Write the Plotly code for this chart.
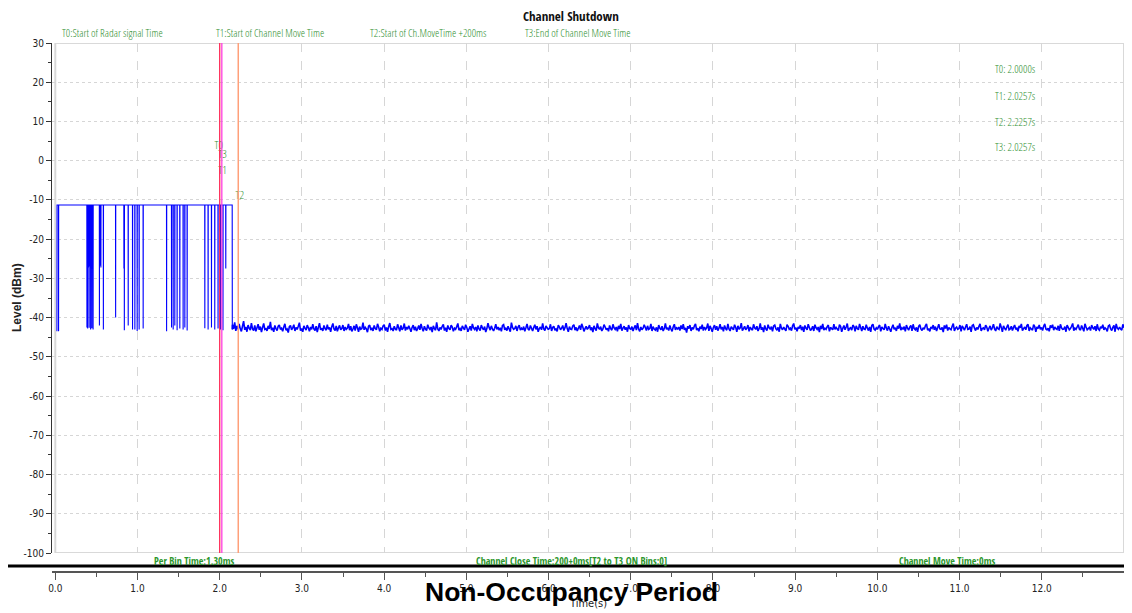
import numpy as np
import plotly.graph_objects as go

# ---------------- data ----------------
title_text = "Channel Shutdown"
x_ticks = [0, 1, 2, 3, 4, 5, 6, 7, 8, 9, 10, 11, 12, 13]
y_ticks = [30, 20, 10, 0, -10, -20, -30, -40, -50, -60, -70, -80, -90, -100]

t0, t1, t2, t3 = 2.0000, 2.0257, 2.2257, 2.0257
marker_names = ["T0", "T1", "T2", "T3"]
marker_times = [t0, t1, t2, t3]

header_labels = ["T0:Start of Radar signal Time", "T1:Start of Channel Move Time",
                 "T2:Start of Ch.MoveTime +200ms", "T3:End of Channel Move Time"]
bottom_labels = ["Per Bin Time:1.30ms", "Channel Close Time:200+0ms[T2 to T3 ON Bins:0]",
                 "Channel Move Time:0ms"]

signal_start = 0.020
signal_end = 2.152
signal_level = -11.3
dip_times = [0.040,
             0.385, 0.388, 0.391, 0.394, 0.397, 0.400, 0.403, 0.406, 0.409, 0.412,
             0.415, 0.418, 0.421, 0.424, 0.427, 0.430, 0.433, 0.436, 0.439, 0.442,
             0.445, 0.448, 0.451, 0.454, 0.457, 0.460,
             0.537, 0.545, 0.555, 0.585, 0.734, 0.835, 0.840, 0.887, 0.940, 0.968,
             0.996, 1.020, 1.069, 1.354, 1.414, 1.434, 1.454, 1.482, 1.515, 1.555,
             1.576, 1.604, 1.819, 1.859, 1.900, 1.940, 1.980, 2.010, 2.040, 2.074]
dip_levels = [-43.5,
              -42.5, -27.0, -27.0, -42.8, -27.0, -27.0, -27.2, -27.0, -27.0, -42.6,
              -27.0, -27.0, -27.0, -27.0, -27.0, -43.0, -27.0, -27.0, -27.3, -27.0,
              -42.7, -27.0, -27.0, -27.0, -27.0, -43.0,
              -42.0, -26.8, -27.2, -43.0, -40.0, -27.5, -43.2, -42.0, -43.0, -43.0,
              -43.4, -43.0, -42.8, -43.5, -42.5, -43.0, -42.0, -43.2, -42.8, -43.0,
              -42.5, -43.3, -42.7, -43.0, -42.5, -43.0, -42.8, -43.0, -43.2, -27.5]

noise_start = 2.155
noise_end = 13.0
noise_levels_part1 = [
    -41.8, -42.9, -41.2, -43.4, -42.1, -43.0, -41.6, -42.8, -43.5, -42.2, -40.9, -43.1, -42.4, -43.6, -41.9, -42.7, -43.2, -41.4, -42.9, -43.3,
    -42.0, -43.5, -42.6, -41.7, -43.1, -42.3, -43.7, -42.5, -41.5, -43.0, -42.8, -43.4, -42.1, -42.9, -41.1, -43.2, -42.6, -43.6, -42.0, -42.8,
    -43.3, -42.2, -41.9, -43.0, -42.7, -43.5, -42.4, -41.6, -43.2, -42.9, -43.8, -42.3, -42.0, -43.1, -42.6, -41.8, -43.4, -42.5, -43.0, -42.2,
    -41.3, -43.3, -42.8, -43.6, -42.1, -42.7, -43.2, -41.9, -42.6, -43.5, -42.4, -43.0, -41.7, -42.9, -43.3, -42.2, -43.7, -42.5, -41.4, -43.1,
    -42.7, -43.4, -42.0, -42.8, -43.2, -41.8, -43.0, -42.5, -43.6, -42.3, -41.5, -42.9, -43.3, -42.1, -43.5, -42.6, -42.0, -43.1, -42.8, -41.9,
    -43.4, -42.4, -43.0, -42.7, -41.6, -43.2, -42.2, -43.5, -42.9, -42.1, -43.3, -41.7, -42.6, -43.6, -42.3, -43.0, -42.8, -41.3, -43.1, -42.5,
    -42.9, -43.7, -42.2, -41.9, -43.2, -42.6, -43.4, -42.0, -42.8, -43.1, -41.6, -42.4, -43.5, -42.7, -43.0, -42.1, -41.8, -43.3, -42.5, -43.6,
    -42.3, -41.4, -43.0, -42.8, -43.4, -42.2, -42.9, -43.2, -41.7, -42.6, -43.5, -42.0, -43.1, -42.7, -41.5, -43.3, -42.4, -43.0, -42.1, -42.8,
    -43.6, -42.5, -41.9, -43.2, -42.3, -43.4, -42.8, -42.0, -43.1, -41.6, -42.7, -43.5, -42.2, -42.9, -43.3, -41.8, -42.6, -43.0, -42.4, -43.7,
    -42.1, -42.8, -43.2, -41.2, -42.9, -43.4, -42.5, -43.0, -42.2, -41.7, -43.3, -42.6, -43.6, -42.0, -42.8, -43.1, -41.9, -42.4, -43.5, -42.7,
    -43.0, -42.3, -41.5, -43.2, -42.8, -43.4, -42.1, -42.7, -43.1, -41.8, -42.5, -43.6, -42.9, -42.2, -43.3, -41.6, -42.6, -43.0, -42.4, -43.5,
    -42.0, -42.9, -43.3, -41.9, -42.6, -43.1, -42.3, -43.7, -42.8, -41.4, -42.5, -43.2, -42.1, -42.9, -43.4, -42.7, -41.7, -43.0, -42.4, -43.2,
    -42.6, -43.5, -42.0, -41.8, -43.1, -42.7, -43.3, -42.2, -42.9, -43.6, -41.3, -42.5, -43.0, -42.8, -42.1, -43.4, -42.4, -41.9, -43.2, -42.7,
    -43.1, -42.3, -43.5, -42.6, -41.6, -42.9, -43.2, -42.0, -42.7, -43.4, -42.5, -41.8, -43.0, -42.2, -43.6, -42.8, -42.4, -43.1, -41.5, -42.9,
    -43.3, -42.1, -42.6, -43.0, -42.8, -41.7, -43.4, -42.5, -42.2, -43.2, -42.9, -43.5, -41.9, -42.4, -43.1, -42.7, -42.0, -43.3, -42.6, -41.4,
    -42.8, -43.6, -42.3, -42.9, -43.0, -42.1, -41.8, -43.2, -42.5, -43.4, -42.7, -42.0, -43.1, -41.6, -42.4, -43.5, -42.8, -42.2, -43.0, -42.6,
    -41.9, -43.2, -42.5, -43.7, -42.1, -42.8, -43.3, -41.5, -42.6, -43.0, -42.3, -43.4, -42.9, -41.8, -42.4, -43.1, -42.7, -43.5, -42.0, -42.8,
    -43.2, -41.7, -42.6, -43.0, -42.4, -43.5, -42.1, -42.9, -41.6, -43.3, -42.7, -42.2, -43.1, -42.5, -43.6, -41.9, -42.8, -43.0, -42.3, -43.4,
    -42.6, -42.0, -43.2, -41.4, -42.9, -43.5, -42.4, -43.1, -42.7, -41.8, -42.5, -43.3, -42.1, -43.0, -42.8, -41.6, -43.4, -42.3, -42.9, -43.2,
    -42.5, -43.6, -41.9, -42.7, -43.1, -42.2, -43.4, -42.8, -41.5, -43.0, -42.6, -43.3, -42.0, -42.9, -43.5, -42.4, -41.7, -43.1, -42.6, -42.9,
]
noise_levels_part2 = [
    -42.4, -43.3, -42.0, -42.9, -41.7, -43.1, -42.6, -43.8, -42.2, -42.8, -41.9, -43.4, -42.5, -43.0, -42.1, -41.6, -43.2, -42.7, -43.5, -42.3,
    -42.9, -41.8, -43.3, -42.4, -43.0, -42.6, -41.5, -43.4, -42.1, -42.8, -43.6, -42.5, -41.9, -43.1, -42.2, -43.3, -42.7, -41.7, -43.0, -42.4,
    -43.5, -42.0, -42.8, -43.2, -41.6, -42.9, -43.4, -42.3, -42.7, -43.1, -41.8, -42.5, -43.6, -42.1, -43.0, -42.6, -41.4, -43.3, -42.8, -42.2,
    -43.1, -42.7, -41.9, -43.5, -42.4, -42.9, -43.2, -41.7, -42.6, -43.0, -42.2, -43.4, -42.8, -41.5, -43.1, -42.5, -43.7, -42.0, -42.9, -43.3,
    -41.8, -42.6, -43.0, -42.3, -43.5, -42.1, -41.9, -42.8, -43.2, -42.5, -43.6, -41.6, -42.7, -43.1, -42.4, -42.9, -43.4, -41.8, -42.2, -43.0,
    -42.7, -43.3, -42.1, -41.5, -43.0, -42.6, -43.5, -42.4, -42.8, -41.9, -43.2, -42.3, -43.6, -42.0, -42.7, -43.1, -41.7, -42.5, -43.3, -42.9,
    -42.2, -43.4, -41.8, -42.6, -43.0, -42.4, -43.7, -42.1, -42.9, -41.6, -43.2, -42.7, -43.0, -42.3, -41.9, -43.5, -42.5, -42.8, -43.1, -41.7,
    -43.0, -42.5, -42.9, -43.3, -41.8, -42.2, -43.6, -42.7, -42.0, -43.1, -42.4, -41.5, -43.4, -42.8, -42.6, -43.2, -41.9, -42.3, -43.5, -42.1,
    -42.8, -43.1, -41.6, -42.5, -43.4, -42.2, -42.9, -43.0, -41.8, -42.7, -43.3, -42.4, -43.6, -42.0, -41.7, -42.9, -43.2, -42.6, -43.0, -42.3,
    -41.9, -43.5, -42.4, -42.8, -43.1, -41.6, -42.7, -43.3, -42.2, -42.9, -43.6, -42.5, -41.8, -43.0, -42.6, -43.4, -42.1, -42.8, -41.5, -43.2,
    -42.6, -43.0, -42.3, -43.5, -41.9, -42.7, -43.2, -42.4, -42.0, -43.4, -41.7, -42.8, -43.1, -42.5, -43.6, -42.2, -41.8, -42.9, -43.3, -42.6,
    -43.0, -42.1, -41.6, -43.2, -42.8, -43.5, -42.4, -42.7, -41.9, -43.1, -42.3, -43.4, -42.6, -41.7, -42.9, -43.0, -42.5, -43.7, -42.0, -42.8,
    -41.8, -43.3, -42.5, -42.9, -43.1, -42.2, -41.5, -43.4, -42.7, -42.4, -43.0, -42.8, -41.9, -43.5, -42.1, -42.6, -43.2, -42.4, -41.7, -43.0,
    -42.9, -42.3, -43.6, -42.0, -41.8, -42.7, -43.3, -42.5, -43.0, -42.2, -41.6, -43.4, -42.8, -42.6, -43.1, -41.9, -42.4, -43.5, -42.7, -42.1,
    -43.2, -42.6, -41.7, -42.9, -43.4, -42.3, -42.8, -43.0, -41.5, -42.5, -43.6, -42.1, -42.7, -43.2, -42.4, -41.8, -43.1, -42.9, -42.2, -43.3,
    -42.5, -41.9, -43.0, -42.7, -43.5, -42.1, -42.6, -41.6, -43.3, -42.8, -42.4, -43.1, -42.0, -41.7, -43.4, -42.6, -42.9, -43.2, -41.8, -42.3,
    -43.6, -42.4, -42.8, -41.9, -43.0, -42.5, -43.3, -42.2, -41.6, -42.9, -43.1, -42.7, -43.5, -42.0, -42.6, -41.8, -43.2, -42.4, -42.8, -43.0,
    -42.1, -43.4, -41.7, -42.6, -43.0, -42.9, -42.3, -43.6, -41.9, -42.5, -43.1, -42.8, -42.2, -41.5, -43.3, -42.7, -43.0, -42.4, -41.8, -42.9,
    -43.2, -42.0, -42.7, -43.5, -41.6, -42.4, -43.1, -42.8, -42.5, -43.3, -41.9, -42.6, -43.0, -42.2, -43.4, -41.7, -42.9, -43.2, -42.3, -42.7,
    -41.8, -43.1, -42.6, -42.9, -43.5, -42.1, -41.9, -42.8, -43.3, -42.5, -42.0, -43.6, -41.6, -42.7, -43.0, -42.4, -42.9, -43.2, -41.7, -42.6,
]

# ---------------- build traces ----------------
noise_levels = noise_levels_part1 + noise_levels_part2
bin_w = 0.0013
xs = [signal_start, signal_start + bin_w]
ys = [dip_levels[0], signal_level]
for t, lv in zip(dip_times, dip_levels):
    xs += [t - bin_w, t, t + bin_w]
    ys += [signal_level, lv, signal_level]
xs += [signal_end, signal_end + bin_w]
ys += [signal_level, -43.0]
noise_t = [signal_end + bin_w] + list(np.linspace(noise_start, noise_end, len(noise_levels)))
noise_y = [-43.0] + list(noise_levels)

GREEN = "#2f8f2f"
GREEN_D = "#2c962c"
LIGHT = "Open Sans Condensed Light, DejaVu Sans Condensed, Liberation Sans"
COND = "DejaVu Sans Condensed, Liberation Sans"
COND_B = "Open Sans Condensed, DejaVu Sans Condensed"

# the page adds an 8px body margin: figure is 1124x605 placed at (8, 8)
W, H = 1124, 605
ML, MR, MT, MB = 44, 8, 35, 41
PW = W - ML - MR   # 1072
PH = H - MT - MB   # 529


def px_x(px):   # page x pixel -> paper x
    return (px - 8 - ML) / PW


def px_y(py):   # page y pixel -> paper y
    return (H - MB - (py - 8)) / PH


fig = go.Figure()
fig.add_trace(go.Scatter(x=xs, y=ys, mode="lines",
                         line=dict(color="#0000ff", width=1.1, simplify=False),
                         hoverinfo="skip"))
fig.add_trace(go.Scatter(x=noise_t, y=noise_y, mode="lines",
                         line=dict(color="#0000ff", width=1.6, simplify=False),
                         hoverinfo="skip"))
fig.add_trace(go.Scatter(x=[1.99, 2.035, 2.035, 2.245], y=[3.7, 1.3, -2.6, -9.0],
                         text=["T0", "T3", "T1", "T2"], mode="text",
                         textfont=dict(family=LIGHT, size=11.5, color=GREEN),
                         hoverinfo="skip"))
fig.add_trace(go.Scatter(x=[0, 13], y=[None, None], xaxis="x2", mode="lines",
                         hoverinfo="skip"))

xr = [-0.04, 13.0]
fig.update_layout(
    width=W, height=H,
    margin=dict(l=ML, r=MR, t=MT, b=MB, autoexpand=False),
    paper_bgcolor="white", plot_bgcolor="white",
    showlegend=False,
    xaxis=dict(range=xr, tickvals=x_ticks, showticklabels=False, ticks="",
               showgrid=True, gridcolor="#d6d6d6", griddash="dash", gridwidth=1,
               zeroline=False, showline=False, automargin=False),
    xaxis2=dict(range=xr, overlaying="x", anchor="free", position=0, side="bottom",
                tickvals=x_ticks, tickformat=".1f", ticks="outside", ticklen=7,
                tickcolor="#555", showline=True, linecolor="#555", linewidth=1.5,
                minor=dict(dtick=0.5, tick0=0, ticks="outside", ticklen=4, tickcolor="#555"),
                showgrid=False, zeroline=False, automargin=False,
                tickfont=dict(family=COND, size=10, color="#222")),
    yaxis=dict(range=[-100, 30], domain=[px_y(553), 1], tickvals=y_ticks,
               ticktext=[str(v) for v in y_ticks],
               ticks="outside", ticklen=5, tickcolor="#333",
               minor=dict(dtick=5, tick0=0, ticks="outside", ticklen=3, tickcolor="#333"),
               showline=True, linecolor="#333", linewidth=1.2,
               showgrid=True, gridcolor="#d6d6d6", griddash="dot", gridwidth=1,
               zeroline=False, automargin=False,
               tickfont=dict(family=COND, size=10, color="#222")),
)

shapes = [
    dict(type="rect", xref="x", yref="y", x0=0, x1=13, y0=-100, y1=30,
         line=dict(color="#d9d9d9", width=2), layer="below"),
    dict(type="line", xref="x", yref="y", x0=t0, x1=t0, y0=-100, y1=30,
         line=dict(color="#ff2a55", width=1.3)),
    dict(type="line", xref="x", yref="y", x0=t1, x1=t1, y0=-100, y1=30,
         line=dict(color="#ff3ee0", width=1.3)),
    dict(type="line", xref="x", yref="y", x0=t2, x1=t2, y0=-100, y1=30,
         line=dict(color="#ffa07a", width=1.5)),
    dict(type="line", xref="paper", yref="paper", x0=-0.1, x1=1.1, y0=px_y(566), y1=px_y(566),
         line=dict(color="black", width=3)),
]
fig.update_layout(shapes=shapes)

ann = []
ann.append(dict(text=title_text, xref="paper", yref="paper",
                x=px_x(571), y=px_y(16), showarrow=False, xanchor="center", yanchor="middle",
                font=dict(family=COND_B, size=13, color="#111")))
for lab, px in zip(header_labels, [60, 214, 368, 523]):
    ann.append(dict(text=lab, xref="paper", yref="paper", x=px_x(px), y=px_y(32),
                    showarrow=False, xanchor="left", yanchor="middle",
                    font=dict(family=LIGHT, size=11, color=GREEN)))
for name, tv, yv in zip(marker_names, marker_times, [23.4, 16.7, 10.1, 3.7]):
    ann.append(dict(text=f"{name}: {tv:.4f}s", xref="x", yref="y", x=11.95, y=yv,
                    showarrow=False, xanchor="right", yanchor="middle",
                    font=dict(family=LIGHT, size=11, color=GREEN)))
for lab, px in zip(bottom_labels, [194, 571, 947]):
    ann.append(dict(text=lab, xref="paper", yref="paper",
                    x=px_x(px), y=px_y(561), showarrow=False,
                    xanchor="center", yanchor="middle",
                    font=dict(family=COND_B, size=10, color=GREEN_D)))
ann.append(dict(text="Time(s)", xref="paper", yref="paper", x=px_x(588), y=px_y(603),
                showarrow=False, xanchor="center", yanchor="middle",
                font=dict(family=COND, size=11, color="#222")))
ann.append(dict(text="<b>Non-Occupancy Period</b>", xref="paper", yref="paper",
                x=px_x(571), y=px_y(592), showarrow=False,
                xanchor="center", yanchor="middle",
                font=dict(family="Liberation Sans, Arial", size=26.5, color="black")))
ann.append(dict(text="<b>Level (dBm)</b>", xref="paper", yref="paper",
                x=px_x(17), y=px_y(298), textangle=-90, showarrow=False,
                xanchor="center", yanchor="middle",
                font=dict(family="Liberation Sans, Arial", size=12, color="#222")))
fig.update_layout(annotations=ann)

fig.write_html("out.html")
